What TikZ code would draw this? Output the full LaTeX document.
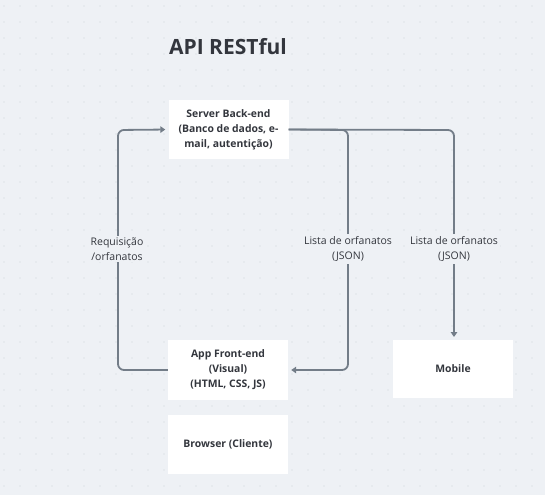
\documentclass[tikz,border=0pt]{standalone}
\usepackage{fontspec}
\setmainfont{Open Sans}
\usetikzlibrary{arrows.meta}
\definecolor{bgc}{HTML}{EEF1F5}
\definecolor{dotc}{HTML}{CDD3DA}
\definecolor{linec}{HTML}{737D88}
\definecolor{txtc}{HTML}{33363D}
\tikzset{
  box/.style={draw=none, fill=white, minimum width=120pt, minimum height=59pt, align=center, text=txtc, font=\fontsize{10.4}{15}\selectfont\bfseries, inner sep=2pt},
  conn/.style={draw=linec, line width=1.8pt, rounded corners=6pt, -{Triangle[length=5pt,width=6.5pt]}, shorten >=3pt},
  lbl/.style={fill=bgc, text=txtc, align=center, font=\fontsize{10.5}{15}\selectfont, inner sep=2pt}
}
\begin{document}
\begin{tikzpicture}[x=1pt,y=-1pt]
\fill[bgc] (0,0) rectangle (545,495);
\useasboundingbox (0,0) rectangle (545,495);
\foreach \i in {0,...,34}{
  \foreach \j in {0,...,31}{
    \fill[dotc] (4+16*\i,6+16*\j) circle (0.7pt);
  }
}
\node[text=txtc, font=\fontsize{21}{24}\selectfont\bfseries] (title) at (228,47) {API RESTful};
\node[box] (server) at (228.5,129.5) {Server Back-end\\(Banco de dados, e-\\mail, autentição)};
\node[box, minimum height=60pt] (app) at (228,370) {App Front-end\\(Visual)\\(HTML, CSS, JS)};
\node[box] (browser) at (228,444.5) {Browser (Cliente)};
\node[box, minimum height=58pt] (mobile) at (453,369) {Mobile};
\coordinate (l1) at (118,370);
\coordinate (l2) at (118,130);
\coordinate (r1) at (348,130);
\coordinate (r2) at (348,370);
\coordinate (m1) at (454,130);
\coordinate (m2) at (454,340);
\draw[conn] (app.west) -- (l1) -- (l2) -- (server.west);
\draw[conn] (server.east) -- (r1) -- (r2) -- (app.east);
\draw[conn] (server.east) -- (m1) -- (m2);
\node[lbl] (lreq) at (117,249) {Requisição\\/orfanatos};
\node[lbl] (llist1) at (348,249) {Lista de orfanatos\\(JSON)};
\node[lbl] (llist2) at (454,249) {Lista de orfanatos\\(JSON)};
\end{tikzpicture}
\end{document}
